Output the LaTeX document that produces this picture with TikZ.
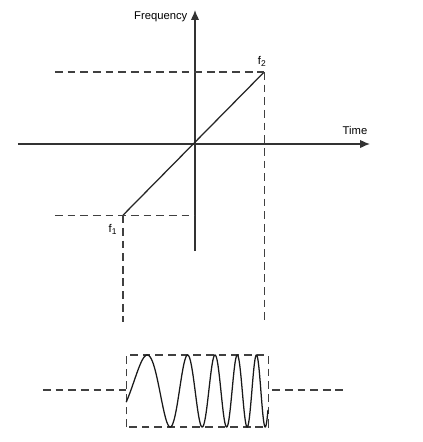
\documentclass[tikz,border=0pt]{standalone}
\usepackage{fontspec}
\setmainfont{Liberation Sans}
\usetikzlibrary{arrows.meta}

\begin{document}
\begin{tikzpicture}[
    guide/.style={dash pattern=on 5.5pt off 3.5pt, line width=0.75pt, black!75},
    axis/.style={-{Latex[length=7pt, width=6pt]}, line width=1pt, black!80},
    lbl/.style={font=\fontsize{8}{9}\selectfont, inner sep=1pt}
]

    \useasboundingbox (-4.875, -7.45) rectangle (5.675, 3.6);

    \coordinate (O) at (0, 0);
    \coordinate (f1) at (-1.8, -1.78);
    \coordinate (f2) at (1.73, 1.8);

    % axes
    \coordinate (xl) at (-4.425, 0);
    \coordinate (xr) at (4.375, 0);
    \coordinate (yb) at (0, -2.675);
    \coordinate (yt) at (0, 3.35);
    \draw[axis] (xl) -- (xr);
    \draw[axis] (yb) -- (yt);
    \node[lbl, left] (freq) at (-0.15, 3.175) {Frequency};
    \node[lbl] (time) at (4.0, 0.33) {Time};

    % sweep line
    \draw[line width=0.9pt, black!85] (f1) -- (f2);
    \node[lbl] (f2lab) at (1.68, 2.07) {f\textsubscript{2}};
    \node[lbl] (f1lab) at (-2.05, -2.13) {f\textsubscript{1}};

    % guides
    \coordinate (gl) at (-3.5, 0);
    \coordinate (gb) at (0, -4.45);
    \draw[guide] (gl |- f2) -- (f2);
    \draw[guide] (gl |- f1) -- (O |- f1);
    \draw[guide] (f2) -- (f2 |- gb);
    \draw[guide] (f1) -- (f1 |- gb);

    % chirp burst
    \coordinate (bl) at (-1.72, -7.075);
    \coordinate (tr) at (1.83, -5.275);
    \draw[guide] (bl) rectangle (tr);
    \coordinate (ml) at (-3.8, -6.15);
    \coordinate (mr) at (3.8, -6.15);
    \draw[guide] (ml) -- (bl |- ml);
    \draw[guide] (tr |- mr) ++(0.1, 0) -- (mr);
    \draw[line width=0.9pt, black!90, domain=0:1, samples=400]
        plot ({-1.72 + 3.55*\x}, {-6.175 + 0.9*sin(-18 + 543*\x + 1248*\x*\x)});

\end{tikzpicture}
\end{document}
